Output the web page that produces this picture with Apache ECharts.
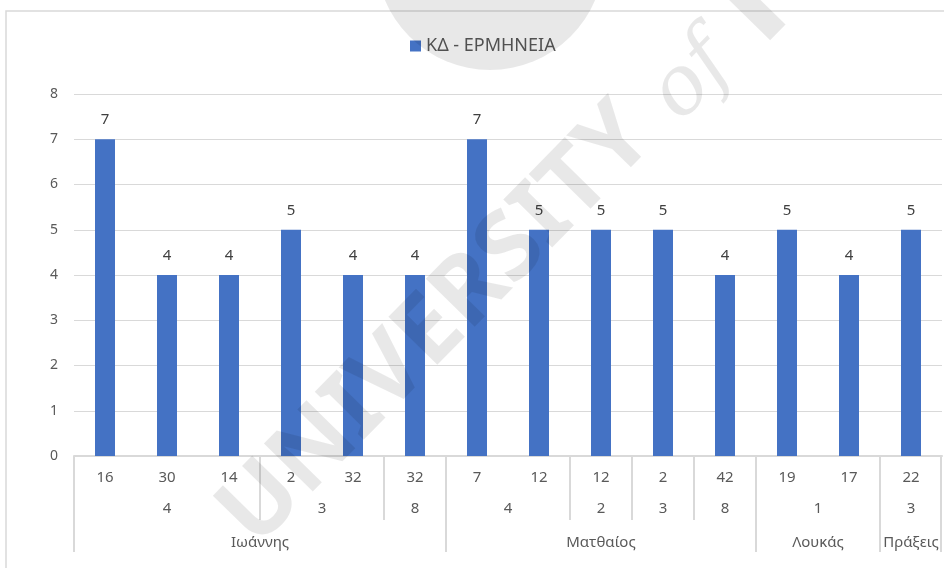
<!DOCTYPE html>
<html>
<head>
<meta charset="utf-8">
<script src="https://cdn.jsdelivr.net/npm/echarts@6/dist/echarts.min.js"></script>
<style>html,body{margin:0;padding:0;background:#fff}#c{width:944px;height:568px}</style>
</head>
<body>
<div id="c"></div>
<script>
// ---- data ----
const seriesName = 'ΚΔ - ΕΡΜΗΝΕΙΑ';
const verses = ['16','30','14','2','32','32','7','12','12','2','42','19','17','22'];
const values = [7,4,4,5,4,4,7,5,5,5,4,5,4,5];
const chapterOf = ['4','4','4','3','3','8','4','4','2','3','8','1','1','3'];
const bookOf = ['Ιωάννης','Ιωάννης','Ιωάννης','Ιωάννης','Ιωάννης','Ιωάννης',
                'Ματθαίος','Ματθαίος','Ματθαίος','Ματθαίος','Ματθαίος',
                'Λουκάς','Λουκάς','Πράξεις'];
const yMin = 0, yMax = 8, yStep = 1;

// ---- build groups ----
function buildGroups(keys, labels, level) {
  const out = [];
  for (let i = 0; i < keys.length; i++) {
    if (i === 0 || keys[i] !== keys[i - 1]) out.push({start: i, end: i + 1, label: labels[i], level: level});
    else out[out.length - 1].end = i + 1;
  }
  if (out.length) out[out.length - 1].last = true;
  return out;
}
const chapterKeys = chapterOf.map((c, i) => bookOf[i] + '|' + c);
const groups = buildGroups(chapterKeys, chapterOf, 0).concat(buildGroups(bookOf, bookOf, 1));

const FONT = '"Noto Sans", "Open Sans", sans-serif';
const TXT = '#595959';
const GRID = '#d9d9d9';
const WM = 'rgba(0,0,0,0.09)';

const chart = echarts.init(document.getElementById('c'), null, {renderer: 'canvas'});
chart.setOption({
  animation: false,
  textStyle: {fontFamily: FONT},
  legend: {
    data: [seriesName], top: 32, left: 405, icon: 'rect',
    itemWidth: 11, itemHeight: 11, itemGap: 10,
    textStyle: {fontSize: 18, color: TXT, fontFamily: FONT}
  },
  grid: {left: 74, right: 2, top: 94, bottom: 112, containLabel: false},
  xAxis: [{
    type: 'category', data: verses,
    axisLine: {show: true, lineStyle: {color: GRID, width: 2}},
    axisTick: {show: false},
    axisLabel: {fontSize: 15, color: TXT, margin: 14, fontFamily: FONT, interval: 0}
  }, {
    type: 'value', min: 0, max: verses.length, show: false
  }],
  yAxis: {
    type: 'value', min: yMin, max: yMax, interval: yStep,
    axisLine: {show: false}, axisTick: {show: false},
    axisLabel: {fontSize: 14, color: TXT, margin: 16, fontFamily: FONT},
    splitLine: {lineStyle: {color: GRID, width: 1}}
  },
  series: [{
    name: seriesName, type: 'bar', data: values, barWidth: 20,
    itemStyle: {color: '#4472C4'},
    label: {show: true, position: 'top', distance: 12, fontSize: 15, color: '#404040', fontFamily: FONT}
  }, {
    type: 'custom', xAxisIndex: 1, yAxisIndex: 0, clip: false, silent: true,
    data: groups.map(g => [g.start, g.end, g.level]),
    renderItem: function (params, api) {
      const g = groups[params.dataIndex];
      const p0 = api.coord([api.value(0), 0]);
      const p1 = api.coord([api.value(1), 0]);
      const y0 = p0[1];
      const lineLen = g.level ? 96 : 64;
      const children = [{
        type: 'text',
        x: (p0[0] + p1[0]) / 2, y: y0 + (g.level ? 87 : 53),
        style: {text: g.label, align: 'center', verticalAlign: 'middle',
                textAlign: 'center', textVerticalAlign: 'middle',
                fill: TXT, fontSize: 15, fontFamily: FONT}
      }, {
        type: 'line',
        shape: {x1: p0[0], y1: y0, x2: p0[0], y2: y0 + lineLen},
        style: {stroke: GRID, lineWidth: 2}
      }];
      if (g.last) children.push({
        type: 'line',
        shape: {x1: p1[0] - 1, y1: y0, x2: p1[0] - 1, y2: y0 + lineLen},
        style: {stroke: GRID, lineWidth: 2}
      });
      return {type: 'group', children: children};
    }
  }],
  graphic: [
    {type: 'rect', shape: {x: 6, y: 11, width: 1000, height: 700}, style: {fill: 'none', stroke: GRID, lineWidth: 1.5}, z: 0, silent: true},
    {type: 'circle', shape: {cx: 490, cy: -44, r: 114}, style: {fill: WM}, z: 100, silent: true},
    {type: 'text', x: 437, y: 326, rotation: 0.795,
     style: {text: 'UNIVERSITY', fontSize: 96, fontWeight: 'bold', fontFamily: FONT,
             fill: WM, align: 'center', verticalAlign: 'middle',
             textAlign: 'center', textVerticalAlign: 'middle'}, z: 100, silent: true},
    {type: 'text', x: 693, y: 80, rotation: 0.795,
     style: {text: 'of', fontSize: 82, fontStyle: 'italic', fontFamily: '"DejaVu Serif", serif',
             fill: WM, align: 'center', verticalAlign: 'middle',
             textAlign: 'center', textVerticalAlign: 'middle'}, z: 100, silent: true},
    {type: 'rect', x: 755, y: 10, rotation: 0.795, shape: {x: -11, y: -32, width: 22, height: 64},
     style: {fill: WM}, z: 100, silent: true}
  ]
});
</script>
</body>
</html>
